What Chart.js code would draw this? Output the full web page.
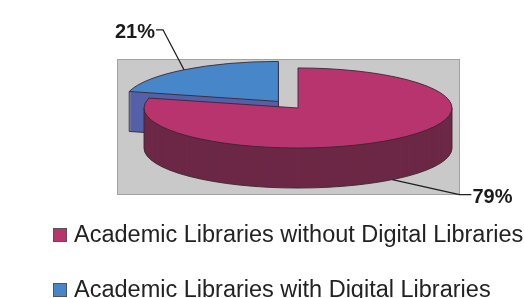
<!DOCTYPE html>
<html><head><meta charset="utf-8">
<script src="https://cdn.jsdelivr.net/npm/chart.js@4.4.0/dist/chart.umd.min.js"></script>
<style>html,body{margin:0;padding:0;background:#fff;overflow:hidden}canvas{display:block}</style>
</head><body>
<canvas id="c" width="524" height="298"></canvas>
<script>
// ---- data ----
const categories = ["Academic Libraries without Digital Libraries", "Academic Libraries with Digital Libraries"];
const shares = [79, 21];

// ---- styles ----
const topColors = ["#b8346f", "#4787c9"];
const sideColors = ["#6c2846", "#5461a8"];
const explode = [0, 32];
const TILT = 0.26, DEPTH = 40;
const leaderElbow = [[67, 15], [-21, -40]];
const leaderTail = [12, -7];
const FONT = '"Liberation Sans", Arial, sans-serif';

function within(a, g) {
  const TAU = Math.PI * 2;
  let x = a;
  while (x < g.a0) x += TAU;
  while (x >= g.a0 + TAU) x -= TAU;
  return x <= g.a1 ? x : null;
}

function geometry(chart) {
  const meta = chart.getDatasetMeta(0);
  return meta.data.map((el, i) => {
    const p = el.getProps(['x', 'y', 'startAngle', 'endAngle', 'outerRadius'], true);
    const mid = (p.startAngle + p.endAngle) / 2;
    const off = el.options.offset || 0;
    return { i, cx: p.x + Math.cos(mid) * off, cy: p.y + Math.sin(mid) * off * TILT,
      r: p.outerRadius, ry: p.outerRadius * TILT, a0: p.startAngle, a1: p.endAngle, mid };
  });
}

function slicePath(ctx, g, dy) {
  ctx.beginPath();
  ctx.moveTo(g.cx, g.cy + dy);
  ctx.ellipse(g.cx, g.cy + dy, g.r, g.ry, 0, g.a0, g.a1);
  ctx.closePath();
}
function rim(g, a, dy) { return [g.cx + g.r * Math.cos(a), g.cy + g.ry * Math.sin(a) + dy]; }

const pie3d = {
  id: 'pie3d',
  beforeDraw(chart) {
    const ctx = chart.ctx;
    ctx.save();
    ctx.fillStyle = '#ffffff';
    ctx.fillRect(0, 0, chart.width, chart.height);
    ctx.fillStyle = '#c9c9c9';
    ctx.fillRect(117, 59, 343, 136);
    ctx.strokeStyle = '#a2a2a2';
    ctx.lineWidth = 1;
    ctx.strokeRect(117.5, 59.5, 342, 135);
    ctx.restore();
  },
  beforeDatasetsDraw(chart) {
    const ctx = chart.ctx;
    const geo = geometry(chart).sort((a, b) => a.cy - b.cy);
    ctx.save();
    ctx.lineJoin = 'round';
    for (const g of geo) {
      // side walls (stacked)
      ctx.fillStyle = sideColors[g.i];
      for (let d = DEPTH; d >= 1; d--) { slicePath(ctx, g, d); ctx.fill(); }
      ctx.strokeStyle = '#3a2630';
      ctx.lineWidth = 0.9;
      // front bottom rim
      const s = within(0, g), e = within(Math.PI, g);
      if (s !== null || e !== null) {
        const st = s !== null ? Math.max(g.a0, s) : g.a0;
        const en = e !== null ? Math.min(g.a1, e) : g.a1;
        ctx.beginPath(); ctx.ellipse(g.cx, g.cy + DEPTH, g.r, g.ry, 0, Math.max(st, 0), Math.min(en, Math.PI)); ctx.stroke();
      }
      // silhouette verticals
      for (const a of [0, Math.PI]) {
        if (within(a, g) !== null) {
          const [x, y] = rim(g, a, 0);
          ctx.beginPath(); ctx.moveTo(x, y); ctx.lineTo(x, y + DEPTH); ctx.stroke();
        }
      }
      // radial faces
      const faces = [[g.a0, Math.cos(g.a0) < -1e-6], [g.a1, Math.cos(g.a1) > 1e-6]];
      for (const [a, vis] of faces) {
        if (!vis) continue;
        const [x, y] = rim(g, a, 0);
        ctx.beginPath();
        ctx.moveTo(x, y); ctx.lineTo(x, y + DEPTH);
        ctx.lineTo(g.cx, g.cy + DEPTH); ctx.lineTo(g.cx, g.cy);
        ctx.stroke();
      }
      // top face
      slicePath(ctx, g, 0);
      ctx.fillStyle = topColors[g.i];
      ctx.fill();
      ctx.stroke();
    }
    ctx.restore();
    return false;
  },
  afterDraw(chart) {
    const ctx = chart.ctx;
    const geo = geometry(chart);
    const data = chart.data.datasets[0].data;
    const total = data.reduce((a, b) => a + b, 0);
    ctx.save();
    // percentage labels with leader lines
    for (const g of geo) {
      const sn = Math.sin(g.mid);
      const [ax, ay] = rim(g, g.mid, sn > 0 ? DEPTH : 0);
      const ex = ax + leaderElbow[g.i][0], ey = ay + leaderElbow[g.i][1];
      const tx = ex + leaderTail[g.i];
      ctx.strokeStyle = '#1e1e1e';
      ctx.lineWidth = 1.3;
      ctx.beginPath(); ctx.moveTo(ax, ay); ctx.lineTo(ex, ey); ctx.lineTo(tx, ey); ctx.stroke();
      ctx.fillStyle = '#1a1a1a';
      ctx.font = 'bold 20px ' + FONT;
      ctx.textBaseline = 'alphabetic';
      const txt = Math.round(data[g.i] / total * 100) + '%';
      if (leaderTail[g.i] > 0) { ctx.textAlign = 'left'; ctx.fillText(txt, tx + 1, ey + 8); }
      else { ctx.textAlign = 'right'; ctx.fillText(txt, tx - 1, ey + 8); }
    }
    // legend
    const labels = chart.data.labels;
    ctx.font = '23.5px ' + FONT;
    ctx.textAlign = 'left';
    ctx.textBaseline = 'alphabetic';
    labels.forEach((lab, i) => {
      const base = 242 + i * 55;
      ctx.fillStyle = topColors[i];
      ctx.fillRect(53, base - 14, 14, 14);
      ctx.strokeStyle = '#555';
      ctx.lineWidth = 1;
      ctx.strokeRect(53.5, base - 13.5, 13, 13);
      ctx.fillStyle = '#222';
      ctx.fillText(lab, 74, base);
    });
    ctx.restore();
  }
};

new Chart(document.getElementById('c'), {
  type: 'pie',
  data: {
    labels: categories,
    datasets: [{
      data: shares,
      backgroundColor: topColors,
      offset: explode,
      radius: 154,
      borderWidth: 0
    }]
  },
  options: {
    responsive: false,
    animation: false,
    events: [],
    layout: { padding: { left: 72, right: 0, top: 0, bottom: 82 } },
    plugins: { legend: { display: false }, tooltip: { enabled: false } }
  },
  plugins: [pie3d]
});
</script>
</body></html>
